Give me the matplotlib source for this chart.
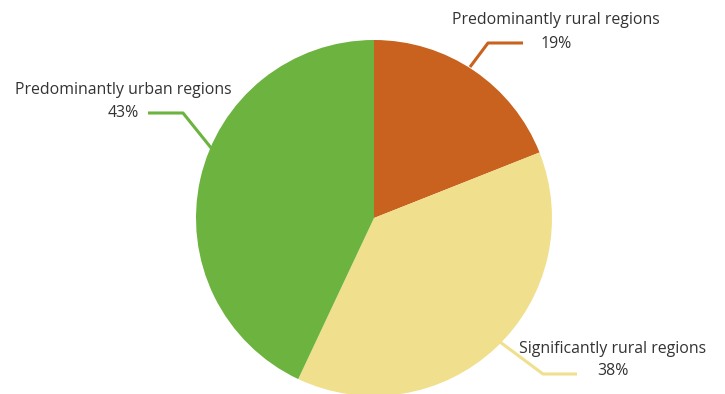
import matplotlib.pyplot as plt

labels = ["Predominantly rural regions", "Significantly rural regions", "Predominantly urban regions"]
shares = [19, 38, 43]
colors = ["#C8621E", "#F0E08E", "#6CB33F"]

# leader lines: (edge point, elbow, end) in pixel space, y down
leaders = [
    [(470, 67), (488, 43), (523, 43)],
    [(496, 339), (543, 374), (577, 374)],
    [(216, 154), (183, 113), (148, 113)],
]
# label anchors: (x, y of name, y of percentage, ha)
label_pos = [
    (556, 20, 44, "center"),
    (613, 349, 371, "center"),
    (123, 90, 113, "center"),
]

W, H = 725, 394
fig = plt.figure(figsize=(W / 100, H / 100), dpi=100)
ax = fig.add_axes([0, 0, 1, 1])

ax.pie(shares, colors=colors, startangle=90, counterclock=False,
       center=(374, H - 218), radius=178, frame=True,
       wedgeprops=dict(linewidth=0, zorder=2))
ax.set_xlim(0, W)
ax.set_ylim(0, H)
ax.set_aspect("equal")
ax.axis("off")

for pts, c in zip(leaders, colors):
    xs = [p[0] for p in pts]
    ys = [H - p[1] for p in pts]
    ax.plot(xs, ys, color=c, lw=2.2, zorder=1, solid_capstyle="butt")

for (x, y1, y2, ha), name, val in zip(label_pos, labels, shares):
    ax.text(x, H - y1, name, ha=ha, va="center", fontsize=11.4,
            family="Open Sans", color="#333333")
    ax.text(x, H - y2, f"{val}%", ha=ha, va="center", fontsize=11.4,
            family="Open Sans", color="#333333")

fig.savefig("out.png", dpi=100)
